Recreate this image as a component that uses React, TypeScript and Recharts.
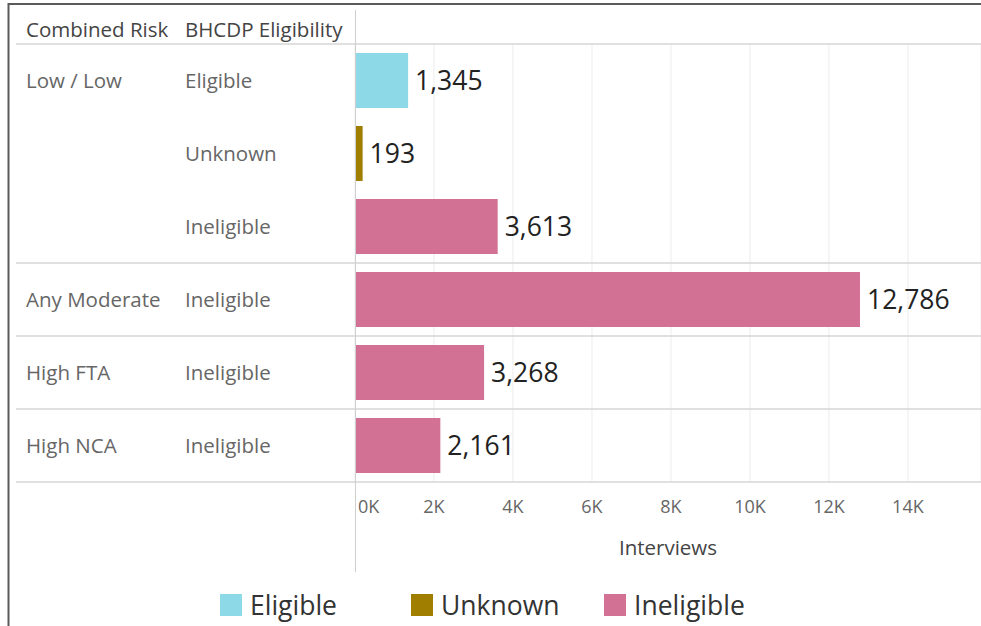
import { BarChart, Bar, XAxis, YAxis, CartesianGrid, Cell, LabelList } from 'recharts'

const riskGroups = ['Low / Low', 'Low / Low', 'Low / Low', 'Any Moderate', 'High FTA', 'High NCA']
const eligibility = ['Eligible', 'Unknown', 'Ineligible', 'Ineligible', 'Ineligible', 'Ineligible']
const interviews = [1345, 193, 3613, 12786, 3268, 2161]
const xTicks = [0, 2000, 4000, 6000, 8000, 10000, 12000, 14000]
const legendItems = ['Eligible', 'Unknown', 'Ineligible']
const colors: Record<string, string> = {
  Eligible: '#8ed9e7',
  Unknown: '#a07f00',
  Ineligible: '#d37194',
}

const W = 981
const H = 572
const TOP = 44
const LEFT = 355
const XAXIS_H = 90
const FONT = '"Open Sans", "Noto Sans", sans-serif'

const data = interviews.map((v, i) => ({
  key: `${riskGroups[i]}|${eligibility[i]}`,
  risk: riskGroups[i],
  elig: eligibility[i],
  value: v,
}))

const rowH = (H - TOP - XAXIS_H) / data.length

function RowTick(props: any) {
  const { y, payload } = props
  const i = data.findIndex(d => d.key === payload.value)
  if (i < 0) return null
  const row = data[i]
  const firstOfGroup = i === 0 || data[i - 1].risk !== row.risk
  const lastOfGroup = i === data.length - 1 || data[i + 1].risk !== row.risk
  return (
    <g>
      {i === 0 && <line x1={16} x2={W} y1={y - rowH / 2} y2={y - rowH / 2} stroke="#d6d6d6" strokeWidth={1.5} />}
      {lastOfGroup && <line x1={16} x2={W} y1={y + rowH / 2} y2={y + rowH / 2} stroke="#d6d6d6" strokeWidth={1.5} />}
      {firstOfGroup && (
        <text x={26} y={y} dy={7} fontSize={20.5} fill="#666" fontFamily={FONT}>{row.risk}</text>
      )}
      <text x={185} y={y} dy={7} fontSize={20.5} fill="#666" fontFamily={FONT}>{row.elig}</text>
    </g>
  )
}

function XTick(props: any) {
  const { x, y, payload } = props
  const first = payload.value === 0
  return (
    <text
      x={first ? x + 3 : x}
      y={y}
      dy={23}
      textAnchor={first ? 'start' : 'middle'}
      fontSize={18}
      fill="#666"
      fontFamily={FONT}
    >
      {payload.value / 1000}K
    </text>
  )
}

export default function App() {
  return (
    <div style={{ position: 'absolute', left: 0, top: 0, width: 981, height: 626, background: '#fff', overflow: 'hidden' }}>
      <BarChart
        width={W}
        height={H}
        data={data}
        layout="vertical"
        margin={{ top: TOP, right: 0, left: 0, bottom: 0 }}
        barCategoryGap={0}
      >
        <CartesianGrid horizontal={false} stroke="#ececec" />
        <XAxis
          type="number"
          domain={[0, 15850]}
          ticks={xTicks}
          allowDataOverflow
          axisLine={false}
          tickLine={false}
          height={XAXIS_H}
          tick={<XTick />}
          label={{ value: 'Interviews', position: 'insideBottom', offset: 17, fill: '#444', fontSize: 20.5, fontFamily: FONT }}
        />
        <YAxis
          type="category"
          dataKey="key"
          width={LEFT}
          axisLine={false}
          tickLine={false}
          tick={<RowTick />}
          interval={0}
        />
        <Bar dataKey="value" barSize={55} isAnimationActive={false}>
          {data.map(d => (
            <Cell key={d.key} fill={colors[d.elig]} />
          ))}
          <LabelList
            dataKey="value"
            position="right"
            offset={7}
            fill="#222"
            fontSize={26.5}
            fontFamily={FONT}
            formatter={(v: any) => Number(v).toLocaleString('en-US')}
          />
        </Bar>
      </BarChart>
      <svg width={981} height={626} style={{ position: 'absolute', left: 0, top: 0, pointerEvents: 'none' }}>
        <line x1={8} x2={981} y1={4} y2={4} stroke="#5a5a5a" strokeWidth={2} />
        <line x1={8.5} x2={8.5} y1={3} y2={626} stroke="#5a5a5a" strokeWidth={2} />
        <line x1={LEFT + 0.5} x2={LEFT + 0.5} y1={10} y2={572} stroke="#cfcfcf" strokeWidth={1} />
        <text x={26} y={37} fontSize={20.5} fill="#444" fontFamily={FONT}>Combined Risk</text>
        <text x={185} y={37} fontSize={20.5} fill="#444" fontFamily={FONT}>BHCDP Eligibility</text>
      </svg>
      <div style={{ position: 'absolute', top: 590, left: 0, width: 981, height: 30, fontFamily: FONT }}>
        {legendItems.map((name, i) => (
          <div
            key={name}
            style={{ position: 'absolute', left: [220, 411, 604][i], top: 0, display: 'flex', alignItems: 'center', gap: 8 }}
          >
            <span style={{ display: 'inline-block', width: 22, height: 22, background: colors[name] }} />
            <span style={{ fontSize: 26.5, color: '#333', lineHeight: '30px' }}>{name}</span>
          </div>
        ))}
      </div>
    </div>
  )
}
